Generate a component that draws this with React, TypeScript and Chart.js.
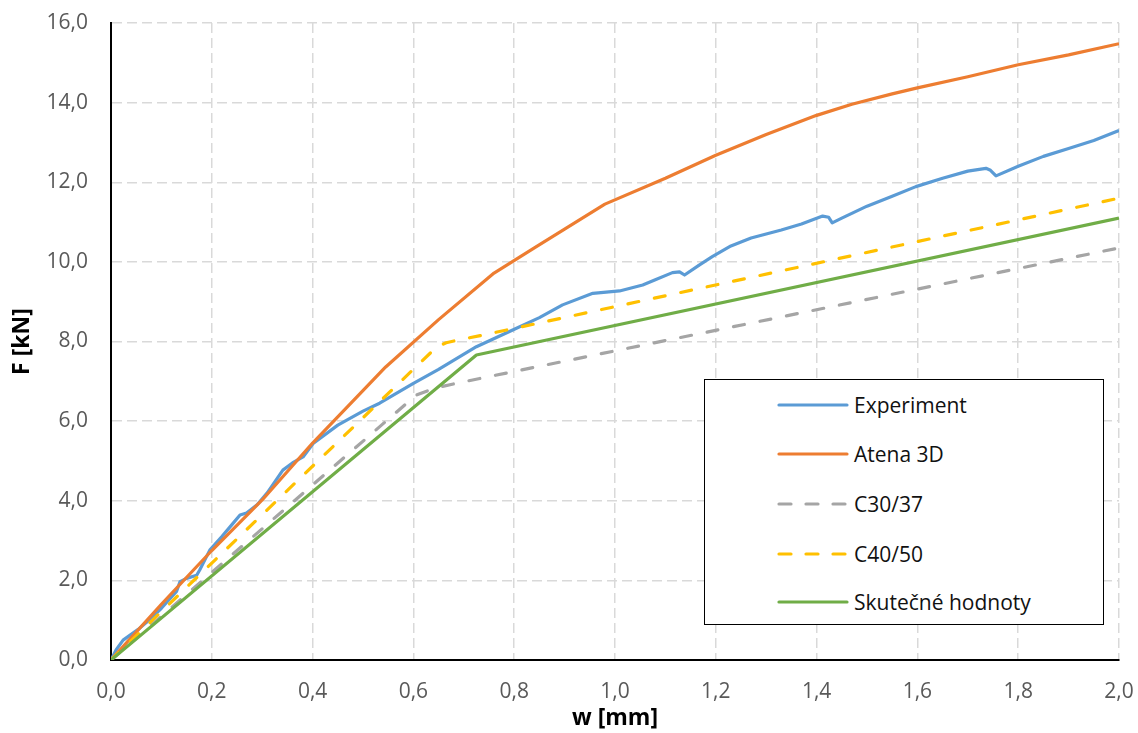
import React, { useEffect, useRef } from 'react';
import { Chart, registerables } from 'chart.js';

Chart.register(...registerables);

// Experiment
const expW = [0, 0.01, 0.024, 0.054, 0.08, 0.1, 0.13, 0.137, 0.15, 0.17, 0.176, 0.196, 0.22, 0.24, 0.256, 0.269, 0.29, 0.31, 0.341, 0.36, 0.381, 0.401, 0.45, 0.5, 0.533, 0.6, 0.65, 0.725, 0.797, 0.85, 0.896, 0.956, 1.009, 1.055, 1.08, 1.114, 1.128, 1.138, 1.167, 1.193, 1.23, 1.27, 1.3, 1.33, 1.37, 1.412, 1.424, 1.431, 1.45, 1.5, 1.55, 1.597, 1.65, 1.7, 1.736, 1.745, 1.756, 1.8, 1.85, 1.9, 1.95, 2.0];
const expF = [0, 0.25, 0.5, 0.77, 1.05, 1.3, 1.72, 1.97, 2.05, 2.13, 2.26, 2.76, 3.1, 3.4, 3.64, 3.69, 3.9, 4.2, 4.77, 4.95, 5.1, 5.44, 5.9, 6.25, 6.45, 6.95, 7.3, 7.87, 8.29, 8.6, 8.92, 9.21, 9.27, 9.42, 9.55, 9.73, 9.75, 9.67, 9.92, 10.13, 10.4, 10.6, 10.7, 10.8, 10.95, 11.15, 11.12, 10.98, 11.1, 11.4, 11.65, 11.89, 12.1, 12.28, 12.35, 12.3, 12.16, 12.4, 12.65, 12.85, 13.05, 13.3];

// Atena 3D
const atenaW = [0, 0.1, 0.2, 0.3, 0.4, 0.545, 0.65, 0.76, 0.84, 0.9, 0.98, 1.1, 1.2, 1.3, 1.4, 1.47, 1.55, 1.6, 1.7, 1.8, 1.9, 2.0];
const atenaF = [0, 1.4, 2.75, 4.02, 5.45, 7.36, 8.55, 9.72, 10.35, 10.82, 11.45, 12.1, 12.68, 13.2, 13.68, 13.96, 14.22, 14.37, 14.65, 14.95, 15.2, 15.48];

// C30/37
const c30W = [0, 0.605, 0.64, 0.685, 2.0];
const c30F = [0, 6.65, 6.82, 6.95, 10.35];

// C40/50
const c40W = [0, 0.645, 0.665, 0.69, 0.73, 2.0];
const c40F = [0, 7.85, 7.97, 8.04, 8.14, 11.6];

// Skutečné hodnoty
const skW = [0, 0.725, 2.0];
const skF = [0, 7.66, 11.1];

const seriesNames = ['Experiment', 'Atena 3D', 'C30/37', 'C40/50', 'Skutečné hodnoty'];
const seriesColors = ['#5b9bd5', '#ed7d31', '#a5a5a5', '#ffc000', '#70ad47'];
const seriesDashed = [false, false, true, true, false];

const xTitle = 'w [mm]';
const yTitle = 'F [kN]';

const toPts = (xs: number[], ys: number[]) => xs.map((x, i) => ({ x, y: ys[i] }));
const fmt = (v: number | string) => Number(v).toFixed(1).replace('.', ',');

export default function App() {
  const ref = useRef<HTMLCanvasElement>(null);

  useEffect(() => {
    if (!ref.current) return;
    const allData = [toPts(expW, expF), toPts(atenaW, atenaF), toPts(c30W, c30F), toPts(c40W, c40F), toPts(skW, skF)];
    const datasets = allData.map((d, i) => ({
      label: seriesNames[i],
      data: d,
      borderColor: seriesColors[i],
      backgroundColor: seriesColors[i],
      borderWidth: 3.2,
      showLine: true,
      pointRadius: 0,
      fill: false,
      tension: 0,
      borderDash: seriesDashed[i] ? [11, 16] : [],
      borderCapStyle: seriesDashed[i] ? 'round' : 'butt',
      borderJoinStyle: 'round',
      order: 5 - i,
    }));
    const tickFont = { family: 'Open Sans', size: 21 };
    const titleFont = { family: 'Open Sans', size: 23, weight: 'bold' };
    const chart = new Chart(ref.current, {
      type: 'scatter',
      data: { datasets: datasets as any },
      options: {
        responsive: false,
        maintainAspectRatio: false,
        animation: false,
        layout: { padding: { top: 23, right: 19, left: 0, bottom: 0 } },
        plugins: { legend: { display: false }, tooltip: { enabled: false } },
        scales: {
          x: {
            type: 'linear',
            min: 0,
            max: 2,
            afterFit: (s: any) => { s.height = 73; s.paddingLeft = 0; s.paddingRight = 0; },
            ticks: { stepSize: 0.2, callback: (v: any) => fmt(v), color: '#595959', font: tickFont, padding: 19, maxRotation: 0, autoSkip: false },
            grid: { color: '#d9d9d9', lineWidth: 1.5, drawTicks: false },
            border: { display: true, color: '#000000', width: 2, dash: [10, 5] },
            title: { display: true, text: xTitle, color: '#000000', font: titleFont as any, padding: { top: 0, bottom: 1 } },
          },
          y: {
            type: 'linear',
            min: 0,
            max: 16,
            afterFit: (s: any) => { s.width = 111; s.paddingTop = 0; s.paddingBottom = 0; },
            ticks: { stepSize: 2, callback: (v: any) => fmt(v), color: '#595959', font: tickFont, padding: 23 },
            grid: { color: '#d9d9d9', lineWidth: 1.5, drawTicks: false },
            border: { display: true, color: '#000000', width: 2, dash: [10, 5] },
            title: { display: true, text: yTitle, color: '#000000', font: titleFont as any, padding: { top: 9, bottom: 0 } },
          },
        },
      } as any,
    });
    return () => chart.destroy();
  }, []);

  const rowTops = [25, 74, 124, 174, 222];

  return (
    <div style={{ position: 'fixed', left: 0, top: 0, width: 1138, height: 733, background: '#ffffff' }}>
      <canvas ref={ref} width={1138} height={733} style={{ display: 'block', width: 1138, height: 733 }} />
      <div
        style={{
          position: 'absolute',
          left: 704,
          top: 379,
          width: 400,
          height: 246,
          border: '1.5px solid #000',
          background: '#ffffff',
          boxSizing: 'border-box',
          fontFamily: 'Open Sans',
          fontSize: 21,
          color: '#111',
        }}
      >
        {seriesNames.map((name, i) => (
          <div key={name} style={{ position: 'absolute', left: 0, top: rowTops[i] - 15, height: 30, width: '100%' }}>
            <svg width={72} height={30} style={{ position: 'absolute', left: 72, top: 0 }}>
              <line
                x1={2}
                y1={15}
                x2={70}
                y2={15}
                stroke={seriesColors[i]}
                strokeWidth={3.2}
                strokeDasharray={seriesDashed[i] ? '12 15' : undefined}
                strokeLinecap="round"
              />
            </svg>
            <span style={{ position: 'absolute', left: 149, top: 0, lineHeight: '30px', whiteSpace: 'nowrap' }}>{name}</span>
          </div>
        ))}
      </div>
    </div>
  );
}
